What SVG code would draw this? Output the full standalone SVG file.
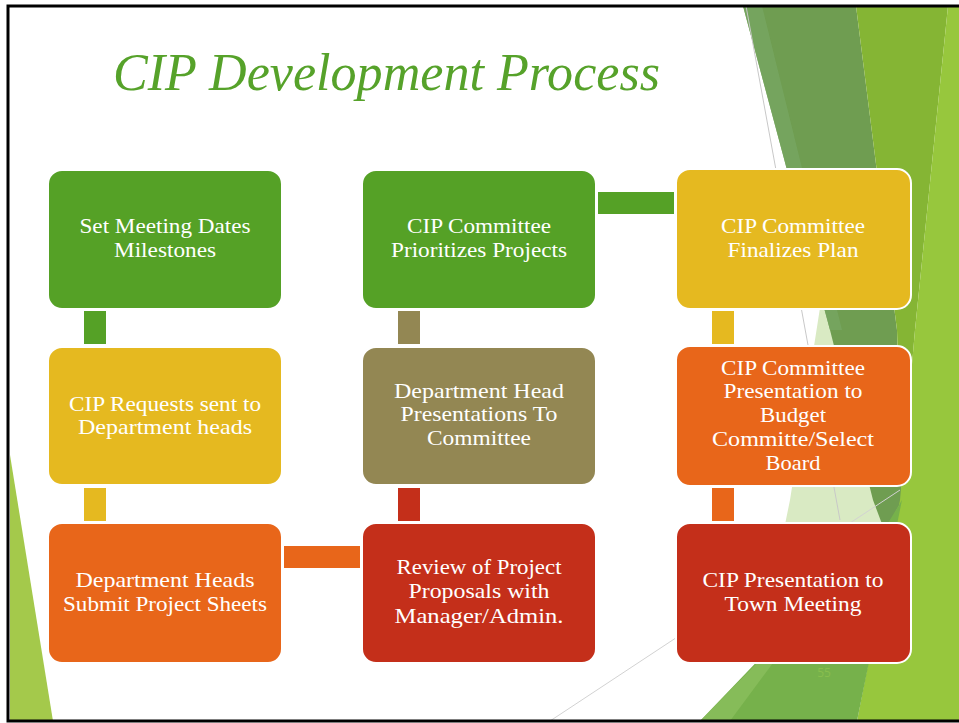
<svg xmlns="http://www.w3.org/2000/svg" width="959" height="723" viewBox="0 0 959 723">
<style>
.box{stroke:#ffffff;stroke-width:2}
.t{font-family:"Liberation Serif","Times New Roman",serif;font-size:21px;fill:#ffffff;text-anchor:middle}
.title{font-family:"Liberation Serif","Times New Roman",serif;font-size:52px;font-style:italic;fill:#56A22A}
</style>
<rect width="959" height="723" fill="#ffffff"/>
<g id="decor">
<polygon points="10,455 10,721 53,721" fill="#A4C94B"/>
<polygon points="822,295 885,530 800,650 745,721 790,500" fill="#D9EAC3"/>
<polygon points="743,6 856,6 897,330 902,500 885,532 873,500 830,330" fill="#6F9D51"/>
<polygon points="743,6 762,6 842,330 830,330" fill="#77A661" opacity="0.8"/>
<polygon points="856,6 948,6 915,330 902,480 897,330" fill="#85B534"/>
<polygon points="948,6 959,6 959,721 857,721 900,500 915,330" fill="#97C73D"/>
<polygon points="700,721 885,528 902,500 857,721" fill="#76B14B"/>
<polygon points="700,721 760,660 790,640 730,721" fill="#8DC060" opacity="0.7"/>
<line x1="746" y1="6" x2="840" y2="520" stroke="#c8c8c8" stroke-width="1"/>
<line x1="550" y1="721" x2="900" y2="490" stroke="#d2d2d2" stroke-width="1"/>
<text x="824" y="677" font-family="Open Sans, sans-serif" font-size="12" fill="#88BE4E" text-anchor="middle">55</text>
</g>
<text class="title" x="113" y="90" textLength="547" lengthAdjust="spacingAndGlyphs">CIP Development Process</text>
<g id="connectors">
<rect x="84" y="311" width="22" height="33" fill="#55A126"/>
<rect x="84" y="488" width="22" height="33" fill="#E5B920"/>
<rect x="284" y="546" width="76" height="22" fill="#E8661A"/>
<rect x="398" y="488" width="22" height="33" fill="#C42F1A"/>
<rect x="398" y="311" width="22" height="33" fill="#938753"/>
<rect x="598" y="192" width="76" height="22" fill="#55A126"/>
<rect x="712" y="311" width="22" height="33" fill="#E5B920"/>
<rect x="712" y="488" width="22" height="33" fill="#E8661A"/>
</g>
<g id="n1">
<rect class="box" x="48" y="170" width="234" height="139" rx="14" fill="#55A126"/>
<text class="t" x="165" y="233" textLength="171" lengthAdjust="spacingAndGlyphs">Set Meeting Dates</text>
<text class="t" x="165" y="257" textLength="102" lengthAdjust="spacingAndGlyphs">Milestones</text>
</g>
<g id="n2">
<rect class="box" x="48" y="347" width="234" height="138" rx="14" fill="#E5B920"/>
<text class="t" x="165" y="411" textLength="192" lengthAdjust="spacingAndGlyphs">CIP Requests sent to</text>
<text class="t" x="165" y="434" textLength="174" lengthAdjust="spacingAndGlyphs">Department heads</text>
</g>
<g id="n3">
<rect class="box" x="48" y="523" width="234" height="140" rx="14" fill="#E8661A"/>
<text class="t" x="165" y="587" textLength="179" lengthAdjust="spacingAndGlyphs">Department Heads</text>
<text class="t" x="165" y="611" textLength="204" lengthAdjust="spacingAndGlyphs">Submit Project Sheets</text>
</g>
<g id="n4">
<rect class="box" x="362" y="523" width="234" height="140" rx="14" fill="#C42F1A"/>
<text class="t" x="479" y="574" textLength="165" lengthAdjust="spacingAndGlyphs">Review of Project</text>
<text class="t" x="479" y="598" textLength="141" lengthAdjust="spacingAndGlyphs">Proposals with</text>
<text class="t" x="479" y="623" textLength="169" lengthAdjust="spacingAndGlyphs">Manager/Admin.</text>
</g>
<g id="n5">
<rect class="box" x="362" y="347" width="234" height="138" rx="14" fill="#938753"/>
<text class="t" x="479" y="398" textLength="170" lengthAdjust="spacingAndGlyphs">Department Head</text>
<text class="t" x="479" y="421" textLength="157" lengthAdjust="spacingAndGlyphs">Presentations To</text>
<text class="t" x="479" y="445" textLength="104" lengthAdjust="spacingAndGlyphs">Committee</text>
</g>
<g id="n6">
<rect class="box" x="362" y="170" width="234" height="139" rx="14" fill="#55A126"/>
<text class="t" x="479" y="233" textLength="144" lengthAdjust="spacingAndGlyphs">CIP Committee</text>
<text class="t" x="479" y="257" textLength="176" lengthAdjust="spacingAndGlyphs">Prioritizes Projects</text>
</g>
<g id="n7">
<rect class="box" x="676" y="169" width="235" height="140" rx="14" fill="#E5B920"/>
<text class="t" x="793" y="233" textLength="144" lengthAdjust="spacingAndGlyphs">CIP Committee</text>
<text class="t" x="793" y="257" textLength="131" lengthAdjust="spacingAndGlyphs">Finalizes Plan</text>
</g>
<g id="n8">
<rect class="box" x="676" y="346" width="235" height="140" rx="14" fill="#E8661A"/>
<text class="t" x="793" y="375" textLength="144" lengthAdjust="spacingAndGlyphs">CIP Committee</text>
<text class="t" x="793" y="398" textLength="139" lengthAdjust="spacingAndGlyphs">Presentation to</text>
<text class="t" x="793" y="422" textLength="66" lengthAdjust="spacingAndGlyphs">Budget</text>
<text class="t" x="793" y="446" textLength="162" lengthAdjust="spacingAndGlyphs">Committe/Select</text>
<text class="t" x="793" y="470" textLength="55" lengthAdjust="spacingAndGlyphs">Board</text>
</g>
<g id="n9">
<rect class="box" x="676" y="523" width="235" height="140" rx="14" fill="#C42F1A"/>
<text class="t" x="793" y="587" textLength="181" lengthAdjust="spacingAndGlyphs">CIP Presentation to</text>
<text class="t" x="793" y="611" textLength="137" lengthAdjust="spacingAndGlyphs">Town Meeting</text>
</g>
<path d="M959,6 H8 V721 H959" fill="none" stroke="#000000" stroke-width="3"/>
</svg>
